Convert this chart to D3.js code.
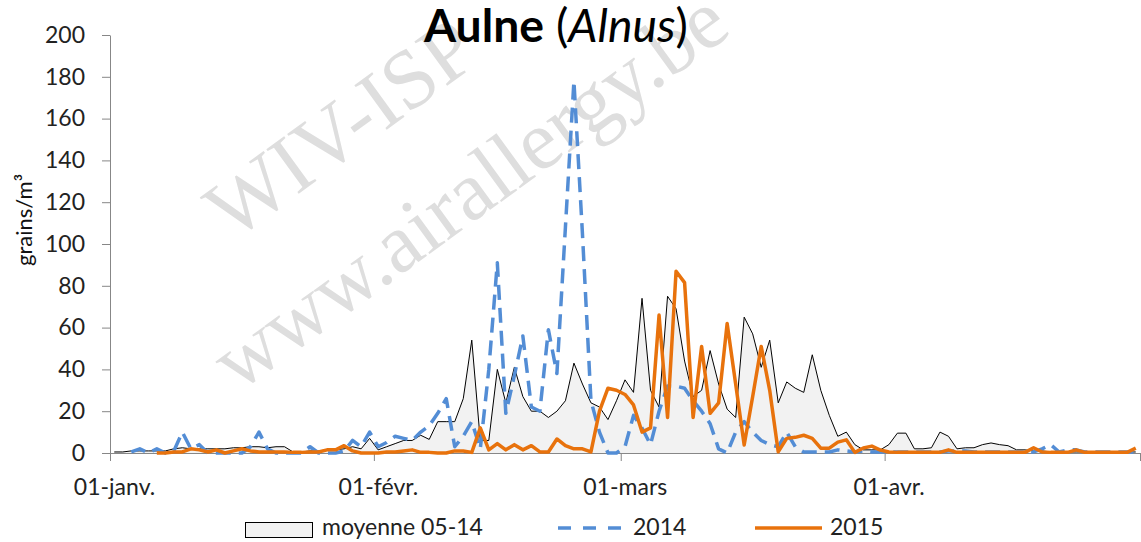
<!DOCTYPE html>
<html><head><meta charset="utf-8">
<script src="https://cdn.jsdelivr.net/npm/d3@7"></script>
<style>
body{margin:0;background:#fff;}
svg{display:block;font-family:Lato,"Open Sans",sans-serif;}
</style>
</head><body>
<svg id="c" width="1141" height="542"></svg>
<script>
// ---- data (day slots 0..120 = 1 Jan .. 30 Apr) ----
const monthLabels = ["01-janv.", "01-févr.", "01-mars", "01-avr."];
const monthStarts = [0, 31, 60, 91, 121];
const yTicks = [0, 20, 40, 60, 80, 100, 120, 140, 160, 180, 200];
const seriesNames = ["moyenne 05-14", "2014", "2015"];

const moyenne = [
 0.5,0.5,1,1,1,1,1,2,2.5,2,
 2,2,2,2,2.5,2.5,3,3,2.5,3,
 3,0.5,0.5,1,1,1.5,1.5,2,3,2,
 7,1.5,3,4.5,6,6,8.5,6.5,15,15,
 15,26,54,6,6,40,24,41,27,20,
 20,17,20,25,43,33,24,22,16,25,
 35,29,74,30,22,75,69,44,27,30,
 49,33,21,17,65,57,41,54,24,34,
 31,29,47,30,18,8,10,4,1.5,1.5,
 1.5,4,9.5,9.5,2,2,2.5,10,8,2,
 2.5,2.5,4,4.8,4,3.5,1.5,1.5,1,1,
 0.5,0.5,0.5,0.5,0.5,0.5,0.5,0.5,0.5,0.5,
 0.5
];
const y2014 = [
 null,null,0.5,2,0,2,0,1,10,2,
 4,0,0,0,0,0,3,10,2,0,
 0,0,0,3,0,0,0,1,6,3,
 10,3,5,8,7,6,10,13,19,26,
 3,8,15,2,40,91,19,37,56,22,
 20,59,38,108,178,105,25,10,0,0,
 3,18,12,4,20,32,32,31,25,20,
 14,2,0,10,15,10,6,4,3,10,
 3,0.5,0.5,0.5,0.5,1.5,1,0.5,1,0.5,
 0.5,0.5,0.5,0.5,0.5,0.5,0.5,0.5,1,1,
 1,0.5,0.5,0.5,0.5,0.5,0.5,0.5,0.5,2,
 4,0.5,1.5,1.5,0.5,0.5,0.5,0.5,0.5,0.5,
 0.5
];
const y2015 = [
 null,null,null,null,null,0,0,0.5,0.5,2,
 1.5,0.5,1.5,0,1,2,1,0.5,0.5,0.5,
 0.5,0.3,0.3,0.5,0.5,1.5,1.5,3.5,1,0,
 0,0,0.5,0.5,1,1.5,0.3,0.3,0,0,
 1,1,0.3,12,1.5,4.5,1.5,4,1.5,3.5,
 0.5,0.5,6.7,3.5,2,2,0.5,20,31,30,
 28,23,10,12,66,17,87,81.5,17,51,
 19,24,62,33,3.8,27,51,30,0.6,7,
 7.5,8.5,7,2.3,2.3,5.2,6.3,0.3,2.4,3.3,
 1.4,0.5,0.3,0.3,0.3,0.3,0.3,0.3,1.5,0.3,
 0.3,0.3,0.3,0.3,0.3,0.3,0.3,0.3,2.5,0.5,
 0.3,0.3,0.3,1.5,0.3,0.3,0.3,0.3,0.3,0.3,
 2.3
];

// ---- styles ----
const C_AXIS = "#878787", C_FILL = "#f2f2f2", C_BLUE = "#538dd5", C_ORANGE = "#e8720c";
const svg = d3.select("#c");

const x = d3.scaleLinear().domain([0, 121]).range([110, 1140]);
const y = d3.scaleLinear().domain([0, 200]).range([453, 35]);
const xd = i => x(i + 0.5);

// watermark
const wm = svg.append("g").attr("fill", "#dedede")
  .attr("font-family", "'Liberation Serif','DejaVu Serif',serif").attr("font-size", 84);
wm.append("text").attr("transform", "translate(232,242) rotate(-36)").text("WIV-ISP");
wm.append("text").attr("transform", "translate(238,393) rotate(-36)").text("www.airallergy.be");

// area (average)
const area = d3.area().x((d, i) => xd(i)).y0(y(0)).y1(d => y(d));
const line = d3.line().defined(d => d != null).x((d, i) => xd(i)).y(d => y(d));
svg.append("path").datum(moyenne).attr("d", area).attr("fill", C_FILL);
svg.append("path").datum(moyenne).attr("d", line).attr("fill", "none")
  .attr("stroke", "#000").attr("stroke-width", 1).attr("stroke-linejoin", "round");

// axes
const ax = svg.append("g").attr("transform", `translate(0,${y(0)})`)
  .call(d3.axisBottom(x).tickValues(monthStarts).tickSize(8).tickSizeOuter(0)
    .tickFormat((d, i) => monthLabels[i] || ""));
ax.select(".domain").attr("stroke", C_AXIS);
ax.selectAll(".tick line").attr("stroke", C_AXIS);
ax.selectAll("text").attr("dy", null).attr("y", 42).attr("x", 4)
  .attr("font-size", 23).attr("fill", "#222").attr("font-family", "Lato");

const ay = svg.append("g").attr("transform", `translate(${x(0)},0)`)
  .call(d3.axisLeft(y).tickValues(yTicks).tickSize(8).tickSizeOuter(0).tickPadding(17));
ay.select(".domain").attr("stroke", C_AXIS);
ay.selectAll(".tick line").attr("stroke", C_AXIS);
ay.selectAll("text").attr("font-size", 23).attr("fill", "#222").attr("font-family", "Lato");

// 2014 dashed
svg.append("path").datum(y2014).attr("d", line).attr("fill", "none")
  .attr("stroke", C_BLUE).attr("stroke-width", 3.5).attr("stroke-dasharray", "15,8")
  .attr("stroke-linejoin", "round");
// 2015
svg.append("path").datum(y2015).attr("d", line).attr("fill", "none")
  .attr("stroke", C_ORANGE).attr("stroke-width", 3.5).attr("stroke-linejoin", "round");

// title
const title = svg.append("text").attr("x", 424).attr("y", 42).attr("fill", "#000")
  .attr("font-family", "Lato");
title.append("tspan").attr("font-weight", "bold").text("Aulne");
title.append("tspan").text(" (");
title.append("tspan").attr("font-style", "italic").text("Alnus");
title.append("tspan").text(")");
let fs = 36; title.attr("font-size", fs);
const w = title.node().getComputedTextLength();
title.attr("font-size", fs * 264 / w);

// y title
svg.append("text").attr("transform", "translate(32,220) rotate(-90)")
  .attr("text-anchor", "middle").attr("font-size", 22).attr("fill", "#111")
  .text("grains/m³");

// legend
const lg = svg.append("g").attr("font-size", 23).attr("fill", "#222");
lg.append("rect").attr("x", 245.5).attr("y", 522.5).attr("width", 67).attr("height", 15)
  .attr("fill", C_FILL).attr("stroke", "#000").attr("stroke-width", 1);
lg.append("text").attr("x", 322).attr("y", 535).text(seriesNames[0]);
lg.append("line").attr("x1", 558).attr("x2", 626).attr("y1", 528).attr("y2", 528)
  .attr("stroke", C_BLUE).attr("stroke-width", 3.5).attr("stroke-dasharray", "13,12");
lg.append("text").attr("x", 633).attr("y", 535).text(seriesNames[1]);
lg.append("line").attr("x1", 755).attr("x2", 822).attr("y1", 528).attr("y2", 528)
  .attr("stroke", C_ORANGE).attr("stroke-width", 3.5);
lg.append("text").attr("x", 830).attr("y", 535).text(seriesNames[2]);
</script>
</body></html>
